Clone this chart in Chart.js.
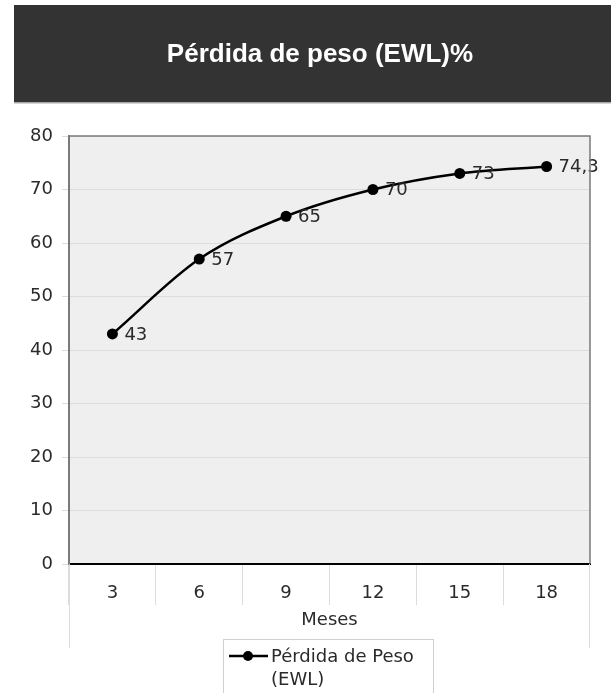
<!DOCTYPE html>
<html>
<head>
<meta charset="utf-8">
<script src="https://cdn.jsdelivr.net/npm/chart.js@4"></script>
<style>
  html, body { margin: 0; padding: 0; background: #fff; }
  #wrap { width: 611px; height: 693px; }
</style>
</head>
<body>
<div id="wrap"><canvas id="pesoChart" width="611" height="693"></canvas></div>
<script>
  const chartTitle = "Pérdida de peso (EWL)%";
  const months = ["3", "6", "9", "12", "15", "18"];
  const ewl = [43, 57, 65, 70, 73, 74.3];
  const ewlLabels = ["43", "57", "65", "70", "73", "74,3"];
  const seriesName = ["Pérdida de Peso", "(EWL)"];
  const FONT = "'DejaVu Sans', Verdana, sans-serif";
  const TITLE_FONT = "'Liberation Sans', Arial, sans-serif";

  // banner, plot background, borders and the custom legend
  const decor = {
    id: "decor",
    beforeDraw(chart) {
      const ctx = chart.ctx;
      const a = chart.chartArea;
      ctx.save();
      ctx.fillStyle = "#333333";
      ctx.fillRect(14, 5, 597, 97);
      ctx.fillStyle = "#a8a8a8";
      ctx.fillRect(14, 102, 597, 1.5);
      ctx.fillStyle = "#ffffff";
      ctx.font = "bold 26px " + TITLE_FONT;
      ctx.textAlign = "center";
      ctx.textBaseline = "middle";
      ctx.fillText(chartTitle, 320, 55);
      ctx.fillStyle = "#efefef";
      ctx.fillRect(a.left, a.top, a.right - a.left, a.bottom - a.top);
      ctx.restore();
    },
    afterDraw(chart) {
      const ctx = chart.ctx;
      const a = chart.chartArea;
      ctx.save();
      // top and right border
      ctx.strokeStyle = "#7a7a7a";
      ctx.lineWidth = 1.5;
      ctx.beginPath();
      ctx.moveTo(a.left, a.top);
      ctx.lineTo(a.right, a.top);
      ctx.lineTo(a.right, a.bottom);
      ctx.stroke();
      // outer separators going down past the labels
      ctx.strokeStyle = "#dcdcdc";
      ctx.lineWidth = 1;
      ctx.beginPath();
      ctx.moveTo(a.left + 0.5, a.bottom);
      ctx.lineTo(a.left + 0.5, 648);
      ctx.moveTo(a.right - 0.5, a.bottom);
      ctx.lineTo(a.right - 0.5, 648);
      ctx.stroke();
      // legend box
      ctx.strokeStyle = "#d0d0d0";
      ctx.strokeRect(223.5, 639.5, 210, 60);
      ctx.strokeStyle = "#000";
      ctx.lineWidth = 2.5;
      ctx.beginPath();
      ctx.moveTo(229, 656);
      ctx.lineTo(268, 656);
      ctx.stroke();
      ctx.fillStyle = "#000";
      ctx.beginPath();
      ctx.arc(248, 656, 5, 0, Math.PI * 2);
      ctx.fill();
      ctx.fillStyle = "#2a2a2a";
      ctx.font = "18px " + FONT;
      ctx.textAlign = "left";
      ctx.textBaseline = "middle";
      ctx.fillText(seriesName[0], 271, 657);
      ctx.fillText(seriesName[1], 271, 680);
      ctx.restore();
    }
  };

  // value labels right of each point
  const pointLabels = {
    id: "pointLabels",
    afterDatasetsDraw(chart) {
      const ctx = chart.ctx;
      const meta = chart.getDatasetMeta(0);
      ctx.save();
      ctx.fillStyle = "#2a2a2a";
      ctx.font = "18px " + FONT;
      ctx.textAlign = "left";
      ctx.textBaseline = "middle";
      meta.data.forEach((pt, i) => {
        ctx.fillText(ewlLabels[i], pt.x + 12, pt.y + 1);
      });
      ctx.restore();
    }
  };

  new Chart(document.getElementById("pesoChart").getContext("2d"), {
    type: "line",
    data: {
      labels: months,
      datasets: [
        {
          label: seriesName.join(" "),
          data: ewl,
          borderColor: "#000",
          backgroundColor: "#000",
          borderWidth: 2.5,
          pointRadius: 5.5,
          pointBackgroundColor: "#000",
          pointBorderWidth: 0,
          cubicInterpolationMode: "monotone",
          fill: false,
        },
      ],
    },
    options: {
      responsive: false,
      animation: false,
      events: [],
      layout: { padding: { top: 136, right: 21, bottom: 0, left: 0 } },
      plugins: {
        legend: { display: false },
        title: { display: false },
        tooltip: { enabled: false },
      },
      scales: {
        x: {
          offset: true,
          grid: {
            offset: true,
            drawOnChartArea: false,
            color: "#dcdcdc",
            tickLength: 41,
          },
          border: { color: "#000", width: 2 },
          ticks: {
            color: "#2a2a2a",
            font: { family: FONT, size: 18 },
            padding: -22,
          },
          title: {
            display: true,
            text: "Meses",
            color: "#2a2a2a",
            font: { family: FONT, size: 18 },
            padding: { top: 0, bottom: 62 },
          },
          afterFit(scale) {
            scale.height = 129;
          },
        },
        y: {
          min: 0,
          max: 80,
          ticks: {
            stepSize: 10,
            color: "#2a2a2a",
            font: { family: FONT, size: 18 },
            padding: 9,
          },
          grid: { color: "#dcdcdc", tickLength: 7 },
          border: { color: "#7a7a7a", width: 2 },
          afterFit(scale) {
            scale.width = 69;
          },
        },
      },
    },
    plugins: [decor, pointLabels],
  });
</script>
</body>
</html>
